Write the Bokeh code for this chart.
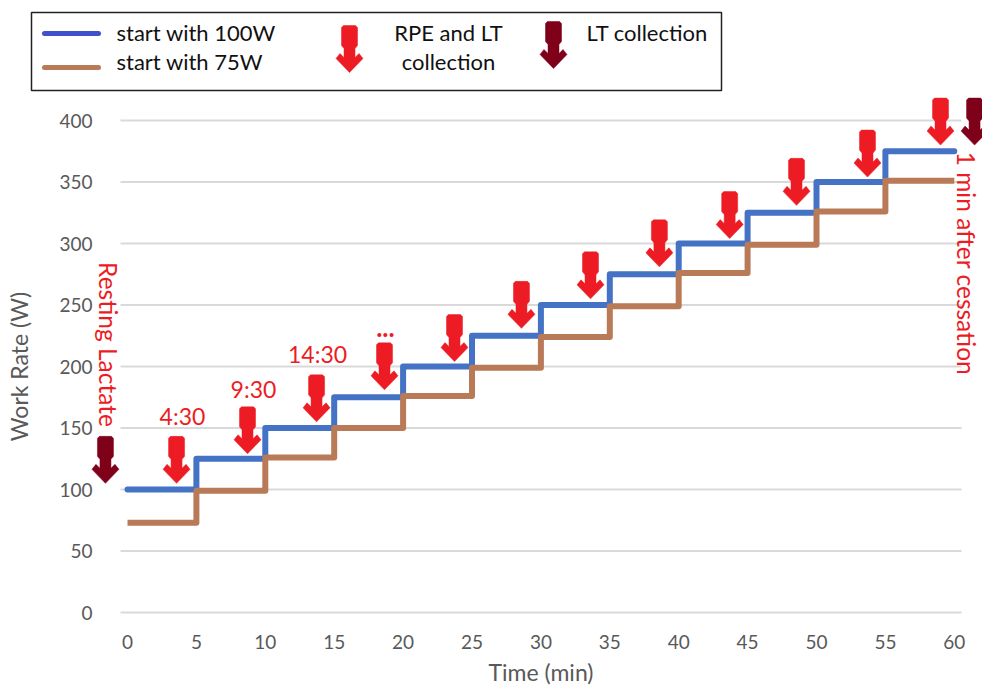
from bokeh.plotting import figure
from bokeh.embed import file_html
from bokeh.resources import INLINE
from bokeh.models import Range1d, FixedTicker
from bokeh.core.properties import value

# ---- data ----
x_ticks = list(range(0, 65, 5))
y_ticks = list(range(0, 450, 50))
step_edges = [0, 5, 10, 15, 20, 25, 30, 35, 40, 45, 50, 55, 60]
start_100w = [100, 125, 150, 175, 200, 225, 250, 275, 300, 325, 350, 375]
start_75w = [73, 99, 126, 150, 176, 199, 224, 249, 276, 299, 326, 351]
rpe_times = [3.56, 8.71, 13.72, 18.65, 23.73, 28.59, 33.6, 38.6, 43.7, 48.55, 53.7, 59.0]
rpe_tips = [105, 129, 155, 181, 204, 231, 255, 281, 304, 331, 354, 380]
lt_times = [-1.6, 61.47]
lt_tips = [105, 380]
time_labels = ["4:30", "9:30", "14:30"]
time_label_x = [3.99, 9.14, 13.79]
time_label_y = [160, 182, 210]

# ---- pixel layout ----
PX_X0, PX_PER_MIN = 127.0, 13.78
PX_Y0, PX_PER_W = 612.0, 1.23
W, H = 982, 688
BLUE, BROWN = "#4472C4", "#B97A57"
LEG_BLUE = "#3F51CC"
RED, DARK = "#ED1C24", "#7F0019"
GRID = "#D9D9D9"
GREY = "#595959"
FONT = "Lato"


def dx(px):
    return (px - PX_X0) / PX_PER_MIN


def dy(py):
    return (PX_Y0 - py) / PX_PER_W


p = figure(width=W, height=H, toolbar_location=None, output_backend="svg",
           x_range=Range1d(dx(0), dx(W)), y_range=Range1d(dy(H), dy(0)),
           min_border=0, min_border_left=0, min_border_right=0,
           min_border_top=0, min_border_bottom=0)
p.outline_line_color = None
p.background_fill_color = "white"
p.grid.visible = False

# axes placed inside the frame
for ax, loc, ticks, label in ((p.xaxis[0], 0, x_ticks, "Time (min)"),
                              (p.yaxis[0], dx(120), y_ticks, "Work Rate (W)")):
    ax.fixed_location = loc
    ax.ticker = FixedTicker(ticks=ticks)
    ax.bounds = (ticks[0], ticks[-1])
    ax.axis_line_color = None
    ax.major_tick_line_color = None
    ax.minor_tick_line_color = None
    ax.major_label_text_color = GREY
    ax.major_label_text_font = FONT
    ax.major_label_text_font_size = "19px"
    ax.axis_label = label
    ax.axis_label_text_color = GREY
    ax.axis_label_text_font = FONT
    ax.axis_label_text_font_size = "23px"
    ax.axis_label_text_font_style = "normal"
p.xaxis[0].major_label_standoff = 16
p.xaxis[0].axis_label_standoff = 6
p.yaxis[0].major_label_standoff = 22
p.yaxis[0].axis_label_standoff = 23

# grid lines
p.segment(x0=[dx(120)] * len(y_ticks), x1=[dx(961)] * len(y_ticks),
          y0=y_ticks, y1=y_ticks, line_color=GRID, line_width=2)


def steps(edges, levels):
    xs, ys = [], []
    for i, lv in enumerate(levels):
        xs += [edges[i], edges[i + 1]]
        ys += [lv, lv]
    return xs, ys


x1, y1 = steps(step_edges, start_100w)
x2, y2 = steps(step_edges, start_75w)
p.line(x1, y1, line_color=BLUE, line_width=6, line_join="round", line_cap="round")
p.line(x2, y2, line_color=BROWN, line_width=6, line_join="round", line_cap="butt")

# arrow outline relative to the tip, in pixels (right half; dx, up)
HALF = [(0, 0), (13.5, 14), (9.5, 19), (5.5, 15), (5.5, 24), (8, 27), (8, 45), (6, 47)]


def arrows(tip_xs, tip_ys, color):
    xs, ys = [], []
    for tx, ty in zip(tip_xs, tip_ys):
        ring = HALF + [(-a, b) for a, b in reversed(HALF[1:])]
        xs.append([tx + a / PX_PER_MIN for a, b in ring])
        ys.append([ty + b / PX_PER_W for a, b in ring])
    p.patches(xs, ys, fill_color=color, line_color=color, line_width=0.5)


arrows(rpe_times, rpe_tips, RED)
arrows(lt_times, lt_tips, DARK)

# red annotations
p.text(time_label_x, time_label_y, text=time_labels, text_color=RED,
       text_font=value(FONT), text_font_size="23px",
       text_align="center", text_baseline="middle")
p.text([18.72], [232], text=["..."], text_color=RED, text_font=value(FONT),
       text_font_size="26px", text_font_style="bold",
       text_align="center", text_baseline="middle")
p.text([dx(108)], [dy(344)], text=["Resting Lactate"], angle=-1.5708, text_color=RED,
       text_font=value(FONT), text_font_size="24.5px",
       text_align="center", text_baseline="middle")
p.text([dx(966)], [dy(263)], text=["1 min after cessation"], angle=-1.5708, text_color=RED,
       text_font=value(FONT), text_font_size="24.5px",
       text_align="center", text_baseline="middle")

# legend box
p.quad(left=[dx(31)], right=[dx(721)], top=[dy(12)], bottom=[dy(90)],
       fill_color="white", line_color="#222222", line_width=1.5)
p.line([dx(44), dx(98)], [dy(33), dy(33)], line_color=LEG_BLUE, line_width=5, line_cap="round")
p.line([dx(44), dx(98)], [dy(67), dy(67)], line_color=BROWN, line_width=5, line_cap="round")
arrows([dx(349)], [dy(72)], RED)
arrows([dx(553)], [dy(68)], DARK)
p.text([dx(116), dx(116), dx(586)], [dy(32), dy(61), dy(32)],
       text=["start with 100W", "start with 75W", "LT collection"],
       text_color="#111111", text_font=value(FONT), text_font_size="22px",
       text_align="left", text_baseline="middle")
p.text([dx(448), dx(448)], [dy(32), dy(61)], text=["RPE and LT", "collection"],
       text_color="#111111", text_font=value(FONT), text_font_size="22px",
       text_align="center", text_baseline="middle")

open("out.html", "w").write(file_html(p, INLINE))
